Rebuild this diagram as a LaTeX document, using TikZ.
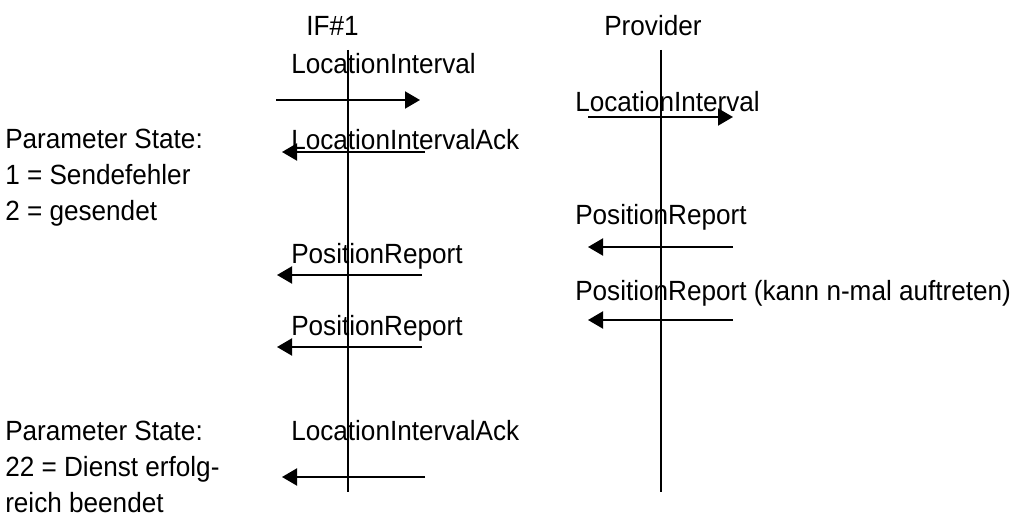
\documentclass[tikz,border=0pt]{standalone}
\usepackage{fontspec}
\setmainfont[FakeStretch=0.94]{Liberation Sans}
\usetikzlibrary{arrows.meta}
\begin{document}
\begin{tikzpicture}[x=0.75pt,y=-0.75pt,
  lbl/.style={anchor=base west,inner sep=0pt,font=\fontsize{20.85pt}{27pt}\selectfont},
  lifeline/.style={line width=1.5pt},
  msg/.style={line width=1.5pt,-{Triangle[length=11.25pt,width=12.75pt]}}]
\useasboundingbox (0,0) rectangle (1018,528);

% headers
\node[lbl] (hIF) at (306,36) {IF\#1};
\node[lbl] (hProv) at (604,36) {Provider};

% lifelines
\coordinate (ifTop) at (348,50);
\coordinate (ifBot) at (348,492);
\coordinate (pvTop) at (661,50);
\coordinate (pvBot) at (661,492);
\draw[lifeline] (ifTop) -- (ifBot);
\draw[lifeline] (pvTop) -- (pvBot);

% messages at IF#1
\node[lbl] (m1) at (291,74) {LocationInterval};
\coordinate (m1a) at (276,100); \coordinate (m1b) at (420,100);
\draw[msg] (m1a) -- (m1b);

\node[lbl] (m2) at (291,150) {LocationIntervalAck};
\coordinate (m2a) at (425,152); \coordinate (m2b) at (282,152);
\draw[msg] (m2a) -- (m2b);

\node[lbl] (m3) at (291,263) {PositionReport};
\coordinate (m3a) at (422,275); \coordinate (m3b) at (277,275);
\draw[msg] (m3a) -- (m3b);

\node[lbl] (m4) at (291,335) {PositionReport};
\coordinate (m4a) at (422,347); \coordinate (m4b) at (277,347);
\draw[msg] (m4a) -- (m4b);

\node[lbl] (m5) at (291,440) {LocationIntervalAck};
\coordinate (m5a) at (425,477); \coordinate (m5b) at (282,477);
\draw[msg] (m5a) -- (m5b);

% messages at the provider
\node[lbl] (p1) at (575,112) {LocationInterval};
\coordinate (p1a) at (588,117); \coordinate (p1b) at (733,117);
\draw[msg] (p1a) -- (p1b);

\node[lbl] (p2) at (575,224) {PositionReport};
\coordinate (p2a) at (733,247); \coordinate (p2b) at (588,247);
\draw[msg] (p2a) -- (p2b);

\node[lbl] (p3) at (575,300) {PositionReport (kann n-mal auftreten)};
\coordinate (p3a) at (733,320); \coordinate (p3b) at (588,320);
\draw[msg] (p3a) -- (p3b);

% parameter notes
\node[lbl] (nA1) at (5,148) {Parameter State:};
\node[lbl] (nA2) at (5,184) {1 = Sendefehler};
\node[lbl] (nA3) at (5,220) {2 = gesendet};

\node[lbl] (nB1) at (5,440) {Parameter State:};
\node[lbl] (nB2) at (5,476) {22 = Dienst erfolg-};
\node[lbl] (nB3) at (5,512) {reich beendet};
\end{tikzpicture}
\end{document}
